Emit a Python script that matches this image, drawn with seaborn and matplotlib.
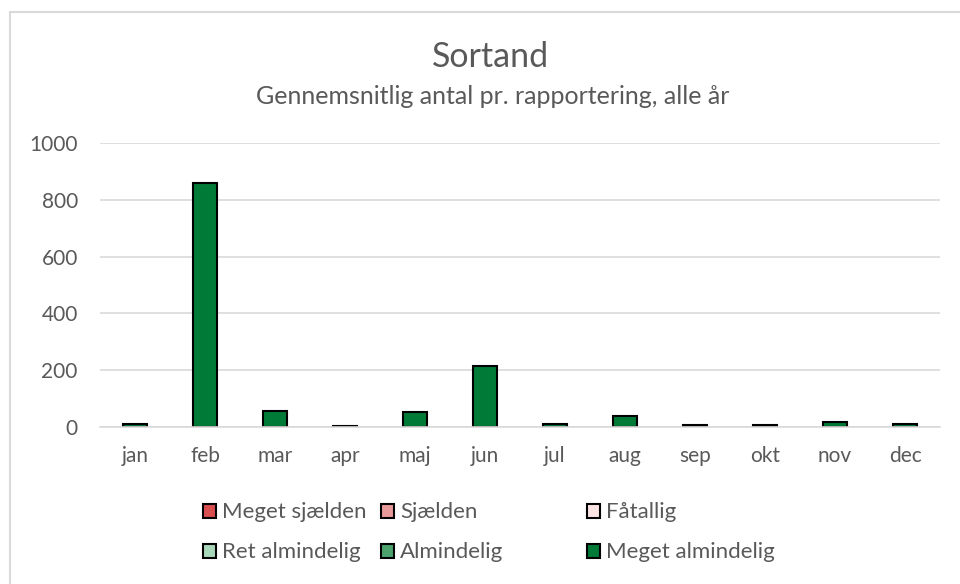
import numpy as np
import pandas as pd
import matplotlib
matplotlib.use("Agg")
import matplotlib.pyplot as plt
from matplotlib.patches import Patch, Rectangle
import seaborn as sb

# data
months = ['jan', 'feb', 'mar', 'apr', 'maj', 'jun', 'jul', 'aug', 'sep', 'okt', 'nov', 'dec']
categories = ['Meget sjælden', 'Sjælden', 'Fåtallig', 'Ret almindelig', 'Almindelig', 'Meget almindelig']
meget_sjaelden = [0, 0, 0, 0, 0, 0, 0, 0, 0, 0, 0, 0]
sjaelden = [0, 0, 0, 0, 0, 0, 0, 0, 0, 0, 0, 0]
faatallig = [0, 0, 0, 0, 0, 0, 0, 0, 0, 0, 0, 0]
ret_almindelig = [0, 0, 0, 0, 0, 0, 0, 0, 0, 0, 0, 0]
almindelig = [0, 0, 0, 0, 0, 0, 0, 0, 0, 0, 0, 0]
meget_almindelig = [11, 860, 57, 3, 52, 214, 11, 40, 8, 8, 17, 12]
colors = ['#d94f4f', '#e89a9a', '#fce4e4', '#a8d8b9', '#4ca36e', '#007a37']

series = [meget_sjaelden, sjaelden, faatallig, ret_almindelig, almindelig, meget_almindelig]
rows = []
for cat, vals in zip(categories, series):
    for i, v in enumerate(vals):
        if v > 0:
            rows.append({'pos': i, 'kategori': cat, 'antal': v})
df = pd.DataFrame(rows)
pal = dict(zip(categories, colors))

sb.set_style('white')
plt.rcParams['font.family'] = ['Lato', 'DejaVu Sans']
grey = '#595959'

fig = plt.figure(figsize=(9.6, 5.84), dpi=100)
ax = fig.add_axes([100/960, 1-427/584, 840/960, 284/584])

sb.histplot(data=df, x='pos', weights='antal', hue='kategori', hue_order=categories,
            multiple='stack', discrete=True, shrink=0.33, palette=pal, alpha=1,
            edgecolor='black', linewidth=1.5, legend=False, ax=ax)

ax.set_xlim(-0.5, len(months) - 0.5)
ax.set_ylim(0, 1000)
ax.set_yticks([0, 200, 400, 600, 800, 1000])
ax.set_xticks(np.arange(len(months)))
ax.set_xticklabels(months)
ax.set_xlabel('')
ax.set_ylabel('')
ax.grid(axis='y', color='#d9d9d9', linewidth=1.2)
ax.set_axisbelow(True)
for s in ['top', 'right', 'left']:
    ax.spines[s].set_visible(False)
ax.spines['bottom'].set_color('#d9d9d9')
ax.spines['bottom'].set_linewidth(1.2)
ax.tick_params(axis='y', length=0, pad=16, labelsize=15, labelcolor=grey)
ax.tick_params(axis='x', length=0, pad=14, labelsize=15, labelcolor=grey)

fig.text(490.5/960, 1-57/584, 'Sortand', ha='center', va='center', fontsize=24.5, color=grey)
fig.text(493/960, 1-97/584, 'Gennemsnitlig antal pr. rapportering, alle år', ha='center', va='center',
         fontsize=18, color=grey)

# legend, three columns as in the original
handles = [Patch(facecolor=c, edgecolor='black', linewidth=1.5) for c in colors]
col_x = [203, 381, 587]
for j in range(3):
    leg = fig.legend(handles=[handles[j], handles[j + 3]], labels=[categories[j], categories[j + 3]],
                     loc='center left', bbox_to_anchor=(col_x[j]/960, 1-532.5/584),
                     frameon=False, fontsize=16, labelcolor=grey, handlelength=0.6,
                     handleheight=0.6, handletextpad=0.25, labelspacing=0.9,
                     borderpad=0, borderaxespad=0)

fig.patches.append(Rectangle((10/960, -0.1), 1.1, 1-12/584+0.1, transform=fig.transFigure,
                             fill=False, edgecolor='#d9d9d9', linewidth=1.5))

fig.savefig('out.png', dpi=100)
